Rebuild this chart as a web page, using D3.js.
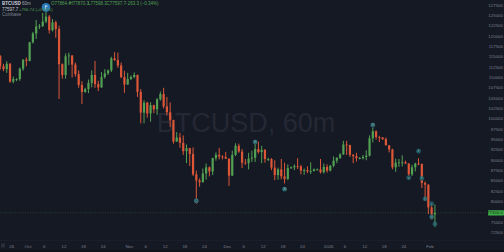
<!DOCTYPE html>
<html>
<head>
<meta charset="utf-8">
<script src="https://cdn.jsdelivr.net/npm/d3@7"></script>
<style>
  html, body { margin: 0; padding: 0; background: #151924; overflow: hidden; }
  svg { display: block; }
</style>
</head>
<body>
<script>
'use strict';

// daily candles, the first one is 22 Sep 2025
const firstDay = new Date(2025, 8, 22);
const opens = [
  115200, 112700, 112000, 113300, 109000, 109600, 109600, 112100, 114300,
  114000, 118500, 120600, 122300, 122400, 123500, 124700, 121400, 123300, 121700,
  113200, 110600, 115100, 115300, 113100, 110800, 108200, 106500, 107200, 108700,
  110600, 108400, 107600, 110100, 111000, 111700, 114600, 114200, 112900, 110100, 108300,
  109600, 110100, 110600, 106500, 101500, 103900, 101300, 103300, 102300, 104700,
  106000, 103000, 101600, 99700, 94500, 95500, 94200, 92200, 92900, 91500,
  86600, 85100, 84700, 86800, 88300, 87300, 90500, 91300, 90900, 90800,
  90400, 86300, 91300, 93500, 92100, 89400, 89300, 90400, 90600, 92700,
  92000, 92500, 90300, 90300, 88200, 86400, 87800, 86100, 85500, 88100,
  88300, 88600, 88500, 87500, 87600, 87300, 87400, 87800, 87800, 87100, 88400,
  87500, 88700, 89900, 90600, 91400, 93800, 93700, 91300, 91000, 90500,
  90500, 90800, 91100, 95300, 97000, 95600, 95500, 95100, 93600, 92600,
  88300, 89400, 89500, 89500, 89200, 86600, 88300, 89200, 89100, 84500, 84100,
  78600, 76900
];
const highs = [
  115400, 113300, 113900, 113500, 110200, 109800, 112400, 114400, 114800,
  118600, 121000, 123900, 122900, 125600, 126200, 125100, 124100, 123700, 122500,
  113400, 115800, 116000, 115400, 113600, 111700, 109100, 107500, 109500, 111700,
  114000, 109200, 111300, 112000, 111900, 115000, 116100, 116000, 113600, 111600, 111100,
  110500, 111200, 110700, 107200, 104500, 104100, 104000, 103400, 105000, 106600,
  107500, 105300, 104000, 99800, 96800, 96600, 96000, 93800, 93000, 93100,
  87500, 85600, 88000, 89200, 88500, 90600, 91900, 93000, 91200, 92000,
  90400, 92300, 94100, 94000, 92700, 90300, 91800, 92300, 94600, 94500,
  93500, 92700, 90600, 90500, 90000, 88200, 90300, 89400, 89000, 88500,
  89000, 90500, 88900, 88000, 88500, 89500, 88000, 88000, 90300, 89200, 89000,
  88800, 90900, 90700, 91700, 94700, 94700, 93700, 91500, 91800, 90800,
  91300, 92400, 96000, 97900, 97200, 95900, 95600, 95500, 93700, 92800,
  90400, 90300, 91200, 89900, 89300, 88900, 89400, 90500, 89200, 84900, 84200,
  79500, 79300
];
const lows = [
  111900, 111500, 111100, 108700, 108600, 109100, 109200, 111600, 112700,
  113900, 118200, 119300, 121700, 122200, 123100, 120600, 121100, 119600, 104800,
  109700, 109700, 113000, 110000, 110200, 107500, 103600, 106300, 106200, 107600,
  107500, 106700, 107500, 109700, 110600, 111300, 114000, 112300, 109800, 106300, 108200,
  109400, 109800, 105300, 98900, 98900, 100300, 99300, 101400, 101000, 104400,
  102500, 100800, 98000, 94000, 94500, 93000, 91300, 89300, 88600, 86200,
  79500, 83600, 84600, 85300, 86100, 86400, 89900, 90200, 90200, 90300,
  83800, 86200, 91000, 91800, 88100, 88900, 87800, 89600, 89600, 91600,
  89300, 89400, 89800, 87600, 85200, 85300, 85400, 84400, 85200, 87900,
  87600, 87900, 86600, 86500, 86900, 86700, 87300, 87500, 86800, 86800, 87000,
  87300, 88300, 89300, 90300, 91300, 91300, 90800, 89300, 89700, 90200,
  90200, 90000, 90900, 94300, 95000, 94400, 94900, 93600, 91900, 87800,
  87200, 88400, 88500, 89100, 86100, 86200, 87300, 88800, 83300, 81000, 77000,
  75700, 73900
];
const closes = [
  112700, 112000, 113300, 109000, 109600, 109600, 112100, 114300, 114000,
  118500, 120600, 122300, 122400, 123500, 124700, 121400, 123300, 121700, 113200,
  110600, 115100, 115300, 113100, 110800, 108200, 106500, 107200, 108700, 110600,
  108400, 107600, 110100, 111000, 111700, 114600, 114200, 112900, 110100, 108300, 109600,
  110100, 110600, 106500, 101500, 103900, 101300, 103300, 102300, 104700, 106000,
  103000, 101600, 99700, 94500, 95500, 94200, 92200, 92900, 91500, 86600,
  85100, 84700, 86800, 88300, 87300, 90500, 91300, 90900, 90800, 90400,
  86300, 91300, 93500, 92100, 89400, 89300, 90400, 90600, 92700, 92000,
  92500, 90300, 90300, 88200, 86400, 87800, 86100, 85500, 88100, 88300,
  88600, 88500, 87500, 87600, 87300, 87400, 87800, 87800, 87100, 88400, 87500,
  88700, 89900, 90600, 91400, 93800, 93700, 91300, 91000, 90500, 90500,
  90800, 91100, 95300, 97000, 95600, 95500, 95100, 93600, 92600, 88300,
  89400, 89500, 89500, 89200, 86600, 88300, 89200, 89100, 84500, 84100, 78600,
  76900, 77300
];

// price axis labels (77500 sits under the last price tag)
const priceTicks = [127500, 125000, 122500, 120000, 117500, 115000, 112500, 110000,
  107500, 105000, 102500, 100000, 97500, 95000, 92500, 90000, 87500, 85000,
  82500, 80000, 75000, 72500];

// time axis labels
const timeTickDays = ['2025-09-26', '2025-10-01', '2025-10-06', '2025-10-12', '2025-10-18',
  '2025-10-24', '2025-11-01', '2025-11-06', '2025-11-12', '2025-11-18', '2025-11-24',
  '2025-12-01', '2025-12-06', '2025-12-12', '2025-12-18', '2025-12-24', '2026-01-01',
  '2026-01-06', '2026-01-12', '2026-01-18', '2026-01-24', '2026-02-01'];
const timeTickLabels = ['26', 'Oct', '6', '12', '18', '24', 'Nov', '6', '12', '18', '24',
  'Dec', '6', '12', '18', '24', '2026', '6', '12', '18', '24', 'Feb'];

// wave labels drawn on the chart
const waveDays = ['2025-11-21', '2025-12-09', '2025-12-18', '2026-01-14', '2026-01-25',
  '2026-01-28', '2026-01-29', '2026-01-30', '2026-02-01', '2026-02-01', '2026-02-02'];
const wavePrices = [80200, 94400, 83000, 98500, 85800, 92200, 85600, 80700, 79500, 76300, 74600];
const waveTexts = ['(C)', '(B)', '(A)', '(B)', 'a', '4', 'b', '(i)', 'c', '(ii)', '5'];

// legend strings
const legendSymbol = 'BTCUSD';
const legendInterval = '60m';
const legendValues = ['O77864.4', 'H77870.3', 'L77598.3', 'C77597.7', '\u2212263.3 (\u22120.34%)'];
const legendLine2 = ['77597.7', '+756.74 (+0.97%)'];
const legendLine3 = 'Coinbase';

let svgContainer = '';

window.onload = function() {
  svgContainer = d3.select('body')
    .append('svg')
    .attr('width', 504)
    .attr('height', 252);
  drawChart();
};

function drawChart() {
  const chartRight = 487;
  const bg = '#151924';
  const upColor = '#52a052';
  const downColor = '#dc5638';
  const font = '"Liberation Sans", Arial, sans-serif';

  svgContainer.append('rect')
    .attr('width', 504)
    .attr('height', 252)
    .attr('fill', bg);

  // time scale: Oct 1 and Feb 1 anchor the axis, scale extends past them
  let xScale = d3.scaleTime()
    .domain([new Date(2025, 9, 1), new Date(2026, 1, 1)])
    .range([28, 430]);
  let yScale = d3.scaleLinear()
    .domain([127500, 72500])
    .range([5, 232.7]);

  let parseDay = d3.timeParse('%Y-%m-%d');

  // big watermark
  svgContainer.append('text')
    .attr('x', 246)
    .attr('y', 132)
    .attr('text-anchor', 'middle')
    .style('font-family', font)
    .style('font-size', '27px')
    .attr('fill', '#242835')
    .text(legendSymbol + ', ' + legendInterval);

  let chart = svgContainer.append('g');

  // candles
  let candles = opens.map(function(o, i) {
    return {
      t: d3.timeHour.offset(d3.timeDay.offset(firstDay, i), 12),
      o: o, h: highs[i], l: lows[i], c: closes[i]
    };
  });

  chart.selectAll('.wick')
    .data(candles)
    .enter()
    .append('line')
      .attr('x1', (d) => xScale(d.t))
      .attr('x2', (d) => xScale(d.t))
      .attr('y1', (d) => yScale(d.h))
      .attr('y2', (d) => yScale(d.l))
      .attr('stroke', (d) => d.c >= d.o ? upColor : downColor)
      .attr('stroke-width', 1);

  chart.selectAll('.body')
    .data(candles)
    .enter()
    .append('rect')
      .attr('x', (d) => xScale(d.t) - 1.1)
      .attr('width', 2.2)
      .attr('y', (d) => yScale(Math.max(d.o, d.c)))
      .attr('height', (d) => Math.max(0.8, Math.abs(yScale(d.o) - yScale(d.c))))
      .attr('fill', (d) => d.c >= d.o ? upColor : downColor);

  // last price line
  let last = candles[candles.length - 1];
  chart.append('line')
    .attr('x1', 0)
    .attr('x2', chartRight)
    .attr('y1', yScale(last.c))
    .attr('y2', yScale(last.c))
    .attr('stroke', '#3c8f45')
    .attr('stroke-width', 0.6)
    .attr('stroke-dasharray', '1,1.5')
    .attr('opacity', 0.6);

  // wave labels
  let waves = waveDays.map((d, i) => ({ t: d3.timeHour.offset(parseDay(d), 12), p: wavePrices[i], s: waveTexts[i] }));
  let waveG = chart.selectAll('.wave')
    .data(waves)
    .enter()
    .append('g')
      .attr('transform', (d) => 'translate(' + xScale(d.t) + ',' + yScale(d.p) + ')');
  waveG.append('circle')
    .attr('r', 2.1)
    .attr('fill', '#1d5058')
    .attr('stroke', '#2a7880')
    .attr('stroke-width', 0.4);
  waveG.append('text')
    .attr('y', 1)
    .attr('text-anchor', 'middle')
    .style('font-family', font)
    .style('font-size', '2.6px')
    .attr('fill', '#8cc4c8')
    .text((d) => d.s);

  // blue marker above the top, with a small flag glyph
  let topIdx = d3.maxIndex(highs);
  let mx = xScale(candles[topIdx].t);
  let my = yScale(highs[topIdx]) - 3;
  svgContainer.append('circle')
    .attr('cx', mx)
    .attr('cy', my)
    .attr('r', 4.3)
    .attr('fill', '#2a79b8');
  svgContainer.append('path')
    .attr('d', d3.line()([[mx - 0.6, my + 2], [mx - 0.6, my - 2], [mx + 1.4, my - 1.2], [mx - 0.6, my - 0.4]]))
    .attr('fill', 'none')
    .attr('stroke', '#dce9f5')
    .attr('stroke-width', 0.6);

  // legend at top left
  let legend = svgContainer.append('g')
    .style('font-family', font)
    .style('font-size', '4.5px');
  legend.append('text')
    .attr('x', 2).attr('y', 5)
    .attr('fill', '#d1d4dc')
    .style('font-weight', 'bold')
    .text(legendSymbol);
  legend.append('text')
    .attr('x', 22).attr('y', 5)
    .attr('fill', '#a3a6af')
    .text(legendInterval);
  legendValues.forEach(function(v, i) {
    legend.append('text')
      .attr('x', 51 + i * 18.5).attr('y', 5)
      .attr('fill', '#52a052')
      .text(v);
  });
  legend.append('text')
    .attr('x', 2).attr('y', 10.5)
    .attr('fill', '#c3c6ce')
    .text(legendLine2[0]);
  legend.append('text')
    .attr('x', 19).attr('y', 10.5)
    .style('font-size', '4.2px')
    .attr('fill', '#52a052')
    .text(legendLine2[1]);
  legend.append('text')
    .attr('x', 2).attr('y', 16)
    .attr('fill', '#7f838e')
    .text(legendLine3);

  // price axis on the right
  let priceAxis = svgContainer.append('g')
    .style('font-family', font)
    .style('font-size', '4.4px');
  priceAxis.append('rect')
    .attr('x', chartRight)
    .attr('y', 0)
    .attr('width', 504 - chartRight)
    .attr('height', 240)
    .attr('fill', bg);
  priceAxis.selectAll('.plabel')
    .data(priceTicks)
    .enter()
    .append('text')
      .attr('x', 503)
      .attr('y', (d) => yScale(d) + 1.5)
      .attr('text-anchor', 'end')
      .attr('fill', '#7a7e89')
      .text((d) => d);

  // last price tag
  priceAxis.append('rect')
    .attr('x', 488)
    .attr('y', yScale(last.c) - 2.6)
    .attr('width', 16)
    .attr('height', 5.2)
    .attr('rx', 0.6)
    .attr('fill', '#3fae49');
  priceAxis.append('text')
    .attr('x', 503)
    .attr('y', yScale(last.c) + 1.5)
    .attr('text-anchor', 'end')
    .attr('fill', '#0e2a12')
    .text(last.c + '.0');

  // time axis at the bottom
  let timeAxis = svgContainer.append('g')
    .style('font-family', font)
    .style('font-size', '4.4px');
  timeAxis.append('line')
    .attr('x1', 0).attr('x2', 504)
    .attr('y1', 240.5).attr('y2', 240.5)
    .attr('stroke', '#1e2230')
    .attr('stroke-width', 0.6);
  timeAxis.selectAll('.tlabel')
    .data(timeTickDays)
    .enter()
    .append('text')
      .attr('x', (d) => xScale(parseDay(d)))
      .attr('y', 247.5)
      .attr('text-anchor', 'middle')
      .attr('fill', '#7a7e89')
      .text((d, i) => timeTickLabels[i]);
  // small settings box in the corner
  timeAxis.append('rect')
    .attr('x', 1).attr('y', 243.5)
    .attr('width', 4).attr('height', 4)
    .attr('fill', '#2a2e3a');
  timeAxis.append('rect')
    .attr('x', 0).attr('y', 250)
    .attr('width', 504).attr('height', 2)
    .attr('fill', '#0f121a');
}
</script>
</body>
</html>
